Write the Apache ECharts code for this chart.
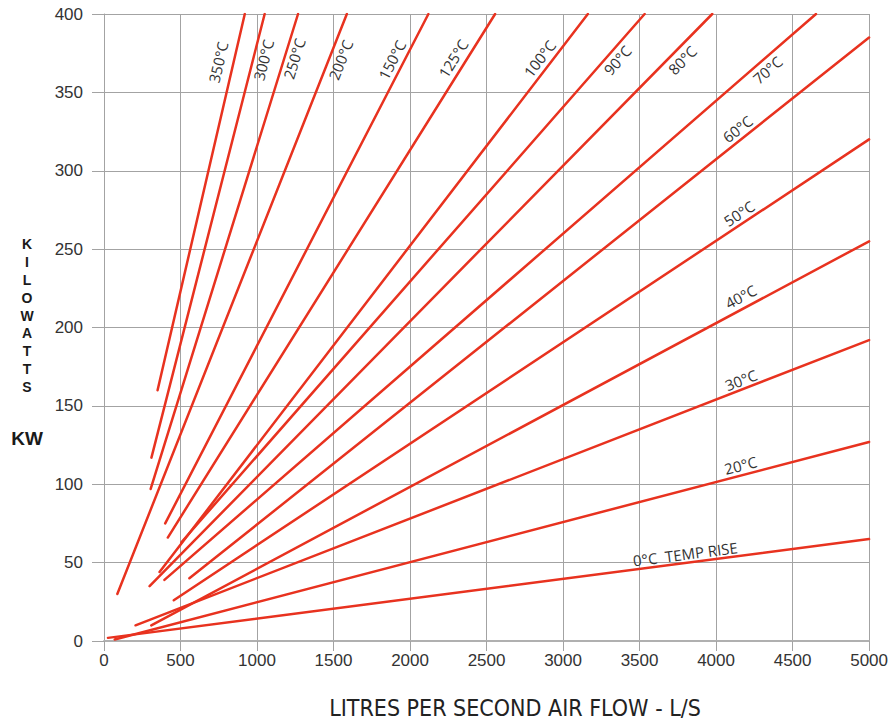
<!DOCTYPE html>
<html>
<head>
<meta charset="utf-8">
<script src="https://cdn.jsdelivr.net/npm/echarts@6/dist/echarts.min.js"></script>
<style>
  html, body { margin: 0; padding: 0; background: #fff; }
  #chart { width: 891px; height: 724px; }
</style>
</head>
<body>
<div id="chart"></div>
<script>
// Heat load (kW) against air flow (L/s) for a range of temperature rises.
const tempLabels = ['350°C', '300°C', '250°C', '200°C', '150°C', '125°C', '100°C', '90°C',
                    '80°C', '70°C', '60°C', '50°C', '40°C', '30°C', '20°C', '0°C  TEMP RISE'];
const startFlow = [350, 310, 305, 87, 400, 417, 363, 506, 298, 395, 558, 456, 309, 206, 70, 26];
const startKw   = [160, 117, 97, 30, 75, 66, 44, 63, 35, 39, 40, 26, 10, 10, 1, 2];
const endFlow   = [920, 1050, 1268, 1587, 2120, 2556, 3162, 3533, 3975, 4653, 5000, 5000, 5000, 5000, 5000, 5000];
const endKw     = [400, 400, 400, 400, 400, 400, 400, 400, 400, 400, 385, 320, 255, 192, 127, 65];

const xTicks = [0, 500, 1000, 1500, 2000, 2500, 3000, 3500, 4000, 4500, 5000];
const yTicks = [0, 50, 100, 150, 200, 250, 300, 350, 400];

// Where each curve label sits: fraction along its line, and side offset in px (+ = above)
const labelAlong  = [0.863, 0.902, 0.912, 0.928, 0.90, 0.903, 0.908, 0.925, 0.933, 0.915, 0.816, 0.821, 0.829, 0.83, 0.833, 0.76];
const labelOffset = [15, -10, -9.5, -11, 11.4, 12, 11.2, -10, -11, -10.4, 10.4, 10.1, 11.9, 9.2, 10.1, 9];

const RED = '#e8321f';
const GRID = '#a3a3a3';

const chart = echarts.init(document.getElementById('chart'), null, { renderer: 'svg' });

const series = tempLabels.map((name, i) => ({
  name: name,
  type: 'line',
  symbol: 'none',
  silent: true,
  animation: false,
  lineStyle: { color: RED, width: 2.5, cap: 'round' },
  data: [[startFlow[i], startKw[i]], [endFlow[i], endKw[i]]]
}));

chart.setOption({
  animation: false,
  backgroundColor: '#fff',
  grid: { left: 104, right: 19, top: 14, bottom: 83, containLabel: false },
  xAxis: {
    type: 'value',
    min: xTicks[0], max: xTicks[xTicks.length - 1], interval: 500,
    axisLine: { show: true, lineStyle: { color: '#b0b0b0', width: 2 } },
    axisTick: { show: true, length: 10, lineStyle: { color: GRID } },
    splitLine: { show: true, lineStyle: { color: GRID, width: 1 } },
    axisLabel: {
      margin: 11, color: '#333', fontFamily: 'Liberation Sans, Arial, sans-serif', fontSize: 17,
      formatter: v => String(v)
    }
  },
  yAxis: {
    type: 'value',
    min: yTicks[0], max: yTicks[yTicks.length - 1], interval: 50,
    axisLine: { show: true, lineStyle: { color: GRID, width: 1 } },
    axisTick: { show: true, length: 12, lineStyle: { color: GRID } },
    splitLine: { show: true, lineStyle: { color: GRID, width: 1 } },
    axisLabel: {
      margin: 21, color: '#333', fontFamily: 'Liberation Sans, Arial, sans-serif', fontSize: 17,
      formatter: v => String(v)
    }
  },
  series: series
});

// Curve labels laid along each line, plus the axis titles
const graphics = [];
tempLabels.forEach((name, i) => {
  const p0 = chart.convertToPixel({ gridIndex: 0 }, [startFlow[i], startKw[i]]);
  const p1 = chart.convertToPixel({ gridIndex: 0 }, [endFlow[i], endKw[i]]);
  const dx = p1[0] - p0[0], dy = p1[1] - p0[1];
  const len = Math.hypot(dx, dy);
  const ux = dx / len, uy = dy / len;
  const t = labelAlong[i], d = labelOffset[i];
  const cx = p0[0] + t * dx + d * uy;
  const cy = p0[1] + t * dy - d * ux;
  graphics.push({
    type: 'text',
    x: cx, y: cy,
    rotation: Math.atan2(-dy, dx),
    silent: true,
    style: {
      text: name,
      fill: '#333',
      font: '15px "Open Sans", "Noto Sans", sans-serif',
      textAlign: 'center', textVerticalAlign: 'middle',
      align: 'center', verticalAlign: 'middle'
    }
  });
});

graphics.push({
  type: 'text',
  x: 27, y: 235,
  silent: true,
  style: {
    text: 'K\nI\nL\nO\nW\nA\nT\nT\nS',
    fill: '#1a1a1a',
    font: 'bold 14px "Liberation Sans", Arial, sans-serif',
    lineHeight: 17.9,
    textAlign: 'center', align: 'center',
    textVerticalAlign: 'top', verticalAlign: 'top'
  }
});
graphics.push({
  type: 'text',
  x: 27, y: 438,
  silent: true,
  style: {
    text: 'KW',
    fill: '#1a1a1a',
    font: 'bold 19px "Liberation Sans", Arial, sans-serif',
    textAlign: 'center', align: 'center',
    textVerticalAlign: 'middle', verticalAlign: 'middle'
  }
});
graphics.push({
  type: 'text',
  x: 515, y: 708,
  silent: true,
  style: {
    text: 'LITRES PER SECOND AIR FLOW - L/S',
    fill: '#222',
    font: '23px "Liberation Sans Narrow", "DejaVu Sans Condensed", sans-serif',
    textAlign: 'center', align: 'center',
    textVerticalAlign: 'middle', verticalAlign: 'middle'
  }
});

chart.setOption({ graphic: graphics });
</script>
</body>
</html>
